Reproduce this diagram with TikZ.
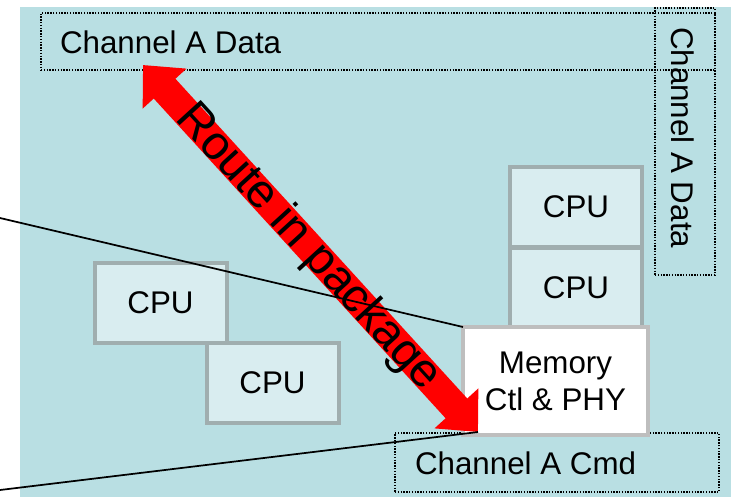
\documentclass[tikz,border=0pt]{standalone}
\usepackage{fontspec}
\setmainfont{Liberation Sans}
\usetikzlibrary{arrows.meta}
\definecolor{bgblue}{RGB}{185,223,227}
\definecolor{cpufill}{RGB}{217,237,240}
\definecolor{cpuborder}{RGB}{160,174,175}
\definecolor{memborder}{RGB}{190,190,190}
\newcommand{\lblfont}{\fontsize{23.5}{27.75}\selectfont}
\newcommand{\routefont}{\fontsize{35.5}{40}\selectfont}
\tikzset{
  cpubox/.style={draw=cpuborder, fill=cpufill, line width=3pt, minimum width=99pt, minimum height=60pt, inner sep=0pt, outer sep=0pt, font=\lblfont},
  membox/.style={draw=memborder, fill=white, line width=3pt, minimum width=138.75pt, minimum height=81pt, inner sep=0pt, outer sep=0pt, align=center, font=\lblfont},
  dotbox/.style={draw=black, line width=1pt, dash pattern=on 1pt off 1.1pt, inner sep=0pt, outer sep=0pt},
  lbl/.style={inner sep=0pt, outer sep=0pt, font=\lblfont},
  wire/.style={black, line width=1.3pt},
  route/.style={red, line width=22pt, {Triangle[length=24pt,width=43pt]}-{Triangle[length=24pt,width=43pt]}}
}
\begin{document}
\begin{tikzpicture}[x=0.75pt,y=-0.75pt]
\useasboundingbox (0,0) rectangle (731,497);
\fill[bgblue] (20,7) rectangle (731,497);
% dotted channel boxes
\node[dotbox, minimum width=505.5pt, minimum height=42.75pt, anchor=north west] (dataH) at (41,13) {};
\node[dotbox, minimum width=45pt, minimum height=200.25pt, anchor=north west] (dataV) at (655,8) {};
\node[dotbox, minimum width=243pt, minimum height=44.25pt, anchor=north west] (cmd) at (395,433) {};
\node[lbl, anchor=base west] (tdataH) at (60,53) {Channel A Data};
\node[lbl, anchor=base west, rotate=-90] (tdataV) at (671,27) {Channel A Data};
\node[lbl, anchor=base west] (tcmd) at (415,474) {Channel A Cmd};
% CPUs
\node[cpubox] (cpuA) at (160.5,302.5) {CPU};
\node[cpubox] (cpuB) at (272.5,383) {CPU};
\node[cpubox] (cpuC) at (576,206.5) {CPU};
\node[cpubox] (cpuD) at (576,287.5) {CPU};
% memory controller
\node[membox] (mem) at (555.5,381) {Memory\\Ctl \& PHY};
% route arrow
\coordinate (t1) at (143,65);
\coordinate (t2) at (478,432);
\draw[route] (t1) -- (t2);
\node[inner sep=0pt, font=\routefont, rotate=-47.6, anchor=base] (troute) at (299,256) {Route in package};
% callout lines
\coordinate (w1) at (0,218);
\coordinate (w2) at (0,490);
\coordinate (w2e) at (478,432);
\draw[wire] (w1) -- (mem.north west);
\draw[wire] (w2) -- (w2e);
\end{tikzpicture}
\end{document}
